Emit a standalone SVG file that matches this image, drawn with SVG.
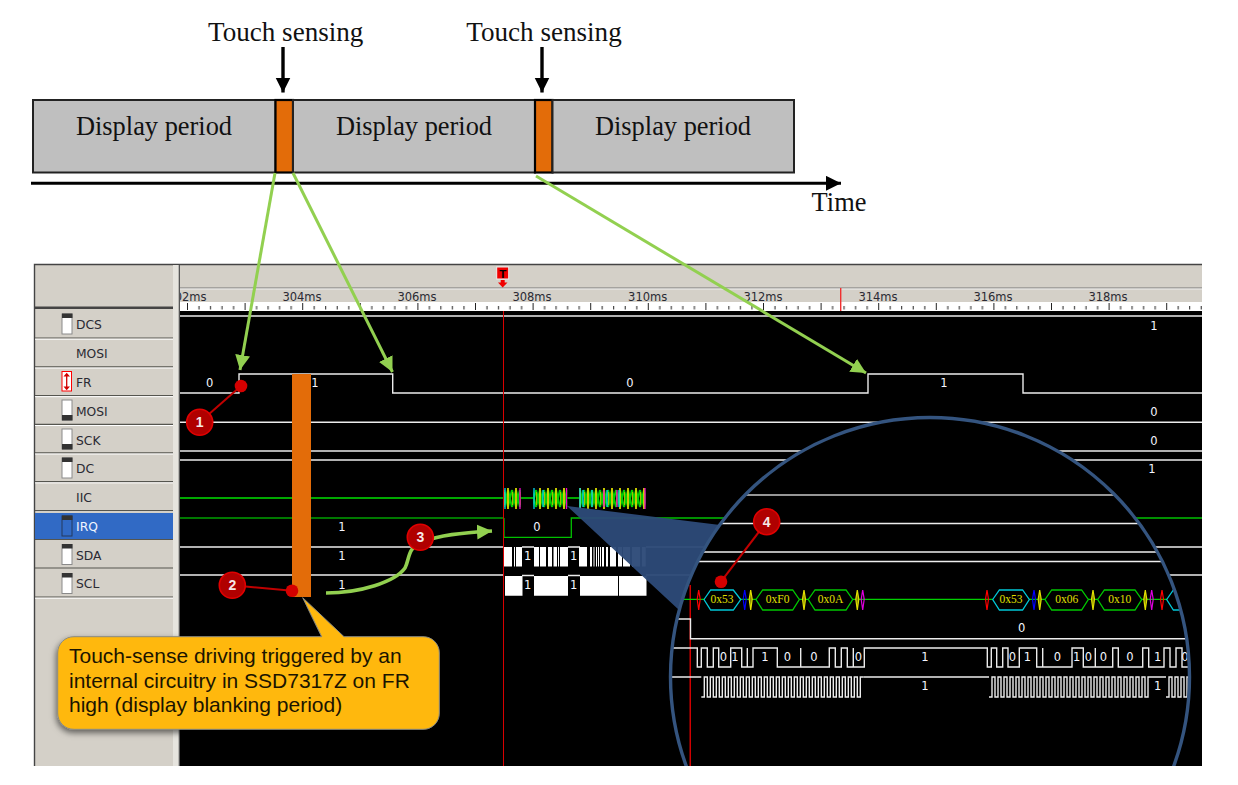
<svg xmlns="http://www.w3.org/2000/svg" xmlns:xlink="http://www.w3.org/1999/xlink" width="1238" height="785" viewBox="0 0 1238 785">
<style>
.ser{font-family:"Liberation Serif",serif;fill:#111}
.big{font-size:26.4px}
.tch{font-size:27.100px}
.row{font-family:"DejaVu Sans",sans-serif;font-size:12.300px;fill:#2a2a33}
.val{font-family:"DejaVu Sans",sans-serif;font-size:11.500px;fill:#f4f6ff;text-anchor:middle}
.tm{font-family:"DejaVu Sans",sans-serif;font-size:11.500px;fill:#2a2a33;text-anchor:middle}
.sig{fill:none;stroke:#ececec;stroke-width:1.4}
.grn{fill:none;stroke:#92d050;stroke-width:3}
.divd{stroke:#55554f;stroke-width:1.2}
.divl{stroke:#fff;stroke-width:1}
.ic{fill:#fff;stroke:#8a8a8a;stroke-width:1}
.icd{fill:#333}
.lead{stroke:#c00000;stroke-width:2;fill:none}
.dot{fill:#d40000}
.num{fill:#b00000;stroke:#e00000;stroke-width:1.6}
.numt{font-family:"Liberation Sans",sans-serif;font-size:14px;font-weight:bold;fill:#f5e8e8;text-anchor:middle}
.hxc{fill:#000;stroke:#00c8d8;stroke-width:1.3}
.hxg{fill:#000;stroke:#00c800;stroke-width:1.3}
.byte{font-family:"Liberation Serif",serif;font-size:11.500px;fill:#e0e000;text-anchor:middle}
.gr{fill:none;stroke:#ff0000;stroke-width:1.200}.gb{fill:none;stroke:#0000ff;stroke-width:1.200}.gy{fill:#888800;stroke:#e0e000;stroke-width:1.200}.gm{fill:none;stroke:#e000e0;stroke-width:1.200}
.call{font-family:"Liberation Sans",sans-serif;font-size:21px;fill:#1a1400}
</style>
<defs>
<clipPath id="win"><rect x="0" y="0" width="1202" height="766"/></clipPath>
<clipPath id="wave"><rect x="180" y="264" width="1022" height="502"/></clipPath>
<clipPath id="lens"><circle cx="930" cy="677" r="259"/></clipPath>
<marker id="ah" markerUnits="userSpaceOnUse" markerWidth="18" markerHeight="18" refX="15" refY="7.500" orient="auto"><path d="M0 0L15 7.500L0 15Z" fill="#92d050"/></marker>
<marker id="bh" markerUnits="userSpaceOnUse" markerWidth="18" markerHeight="18" refX="15" refY="7.500" orient="auto"><path d="M0 0L15 7.500L0 15Z" fill="#000"/></marker>
<pattern id="ticks" patternUnits="userSpaceOnUse" x="187" y="302" width="57.600" height="9">
<rect width="57.600" height="9" fill="#fff"/>
<path d="M.5 1V8M12 4V7.500M23.500 4V7.500M35 4V7.500M46.600 4V7.500" stroke="#222" stroke-width="1" fill="none"/>
</pattern>
<pattern id="burst" patternUnits="userSpaceOnUse" x="504" y="488" width="8" height="21">
<rect width="8" height="21" fill="#000"/>
<path d="M0 2L4 19L8 2M0 19L4 2L8 19" stroke="#00d000" stroke-width="2" fill="none"/>
<path d="M4 0V21" stroke="#d8d800" stroke-width="1.800" fill="none"/>
<path d="M.5 4V17" stroke="#a0c000" stroke-width="1.200" fill="none"/>
</pattern>
<path id="clk" class="sig" d="M0 697H3V677H6V697H9V677H12V697H15V677H18V697H21V677H24V697H27V677H30V697H33V677H36V697H39V677H42V697H45V677H48V697H51V677H54V697H57V677H60V697H63V677H66V697H69V677H72V697H75V677H78V697H81V677H84V697H87V677H90V697H93V677H96V697H99V677H102V697H105V677H108V697H111V677H114V697H117V677H120V697H123V677H126V697H129V677H132V697H135V677H138V697H141V677H144V697H147V677H150V697H153V677H156V697H159V677H162"/>
<filter id="shadow" x="-10%" y="-20%" width="120%" height="150%"><feDropShadow dx="-1" dy="3" stdDeviation="3" flood-color="#000" flood-opacity=".55"/></filter>
</defs>

<g id="timeline">
<g id="period-1"><rect x="33" y="100" width="242.500" height="72.500" fill="#bfbfbf" stroke="#222" stroke-width="2"/><text class="ser big" x="154" y="134.500" text-anchor="middle">Display period</text></g>
<g id="sense-1"><rect x="275.500" y="100" width="17.500" height="72.500" fill="#e36c09" stroke="#000" stroke-width="2.200"/></g>
<g id="period-2"><rect x="293" y="100" width="242" height="72.500" fill="#bfbfbf" stroke="#222" stroke-width="2"/><text class="ser big" x="414" y="134.500" text-anchor="middle">Display period</text></g>
<g id="sense-2"><rect x="535" y="100" width="17.500" height="72.500" fill="#e36c09" stroke="#000" stroke-width="2.200"/></g>
<g id="period-3"><rect x="552.500" y="100" width="241.500" height="72.500" fill="#bfbfbf" stroke="#222" stroke-width="2"/><text class="ser big" x="673" y="134.500" text-anchor="middle">Display period</text></g>
<g id="label-sense-1"><text class="ser tch" x="285.700" y="41" text-anchor="middle">Touch sensing</text></g>
<g id="label-sense-2"><text class="ser tch" x="544" y="41" text-anchor="middle">Touch sensing</text></g>
<g id="label-time"><text class="ser big" x="839" y="210.500" text-anchor="middle">Time</text></g>
</g>

<g clip-path="url(#win)">
<g id="analyzer">
<rect x="34" y="264" width="1168" height="502" fill="#d4d0c8"/>
<path d="M34.500 766V264.500H1202" fill="none" stroke="#444" stroke-width="1.400"/>
<rect x="173" y="265" width="6" height="501" fill="#e6e4de"/>
<rect x="178.700" y="265" width="1.300" height="501" fill="#555"/>
<path d="M180 288H1202" stroke="#777" stroke-width="1.200"/>
<path d="M180 289H1202" stroke="#eee" stroke-width="1"/>
<rect x="180" y="302" width="1022" height="9" fill="url(#ticks)"/>
<rect x="180" y="311" width="1022" height="455" fill="#000"/>
<rect x="840" y="288" width="1.400" height="23" fill="#f03030"/>
<g clip-path="url(#wave)">
<text class="tm" x="187" y="300.700">302ms</text><text class="tm" x="302" y="300.700">304ms</text><text class="tm" x="417" y="300.700">306ms</text><text class="tm" x="532" y="300.700">308ms</text><text class="tm" x="647.700" y="300.700">310ms</text><text class="tm" x="763" y="300.700">312ms</text><text class="tm" x="878" y="300.700">314ms</text><text class="tm" x="993" y="300.700">316ms</text><text class="tm" x="1108" y="300.700">318ms</text>
</g>
<g id="trigger"><rect x="496.700" y="267" width="12" height="12" fill="#f00000" stroke="#eee" stroke-width="1"/><text x="502.700" y="277.500" font-family="Liberation Sans,sans-serif" font-size="11.500" font-weight="bold" fill="#000" text-anchor="middle">T</text><path d="M498 282.500H507.500L502.700 287.500Z" fill="#f00000"/><rect x="500.700" y="280" width="4" height="3" fill="#f00000"/></g>

<rect x="35" y="306.500" width="138" height="2.500" fill="#444"/>
<path class="divd" d="M35 338H173M35 366.800H173M35 395.500H173M35 424.300H173M35 452.800H173M35 481.700H173M35 510.500H173M35 539.500H173M35 568H173M35 597H173"/>
<path class="divl" d="M35 339.200H173M35 368H173M35 396.700H173M35 425.500H173M35 454H173M35 482.900H173M35 598.200H173"/>
<rect x="35" y="513" width="138" height="26" fill="#316ac5"/>

<g id="row-dcs"><rect class="ic" x="62" y="314" width="10" height="20"/><rect class="icd" x="62" y="313.500" width="10.500" height="4.500"/><text class="row" x="76" y="329.300">DCS</text></g>
<g id="row-mosi-a"><text class="row" x="76" y="358">MOSI</text></g>
<g id="row-fr"><rect x="62" y="371.500" width="9.500" height="19.500" fill="#fff" stroke="#f00" stroke-width="1"/><path d="M66.700 374V389" stroke="#d00000" stroke-width="1.300"/><path d="M63.500 376.500L66.700 372.800L70 376.500ZM63.500 386.500L66.700 390.200L70 386.500Z" fill="#d00000"/><text class="row" x="76" y="387">FR</text></g>
<g id="row-mosi-b"><rect class="ic" x="62" y="400" width="10" height="20"/><rect class="icd" x="62" y="415" width="10.500" height="5.500"/><text class="row" x="76" y="415.800">MOSI</text></g>
<g id="row-sck"><rect class="ic" x="62" y="429" width="10" height="20"/><rect class="icd" x="62" y="444" width="10.500" height="5.500"/><text class="row" x="76" y="444.700">SCK</text></g>
<g id="row-dc"><rect class="ic" x="62" y="458" width="10" height="20"/><rect class="icd" x="62" y="457.500" width="10.500" height="4.500"/><text class="row" x="76" y="473">DC</text></g>
<g id="row-iic"><text class="row" x="76" y="502">IIC</text></g>
<g id="row-irq"><rect x="62" y="516" width="10" height="20" fill="#316ac5" stroke="#24385c" stroke-width="1"/><rect class="icd" x="62" y="515.500" width="10.500" height="4.500"/><text class="row" x="76" y="530.700" style="fill:#f0f4ff">IRQ</text></g>
<g id="row-sda"><rect class="ic" x="62" y="544.500" width="10" height="20"/><rect class="icd" x="62" y="544" width="10.500" height="4.500"/><text class="row" x="76" y="559.500">SDA</text></g>
<g id="row-scl"><rect class="ic" x="62" y="573.500" width="10" height="20"/><rect class="icd" x="62" y="573" width="10.500" height="4.500"/><text class="row" x="76" y="588">SCL</text></g>

<g id="signals">
<path class="sig" d="M180 316H1202M180 393H239V374H392.700V393H868V374H1023V393H1202M180 422.300H1202M180 451H1202M180 460H1202M180 547H504M180 575H504"/>
<path d="M646 547H1202M646 575H1202M522 547H534M568 547H580M522 575.500H534M568 575.500H580" class="sig"/>
<path d="M180 498H504M520.700 498H533.300M567.300 498H579.300" fill="none" stroke="#00e000" stroke-width="1.300"/>
<path d="M180 518H504" fill="none" stroke="#00a000" stroke-width="1.300"/>
<path d="M504 518V537.300H571.300V518H1202" fill="none" stroke="#00c000" stroke-width="1.300"/>
<rect x="504" y="488" width="16.700" height="21" fill="url(#burst)"/>
<rect x="533.300" y="488" width="34" height="21" fill="url(#burst)"/>
<rect x="579.300" y="488" width="66.400" height="21" fill="url(#burst)"/>
<path d="M505 488V509M534 488V509M580 488V509M583 490V507M592 490V507M607 490V507M619 490V507M543 490V507" stroke="#00d8f0" stroke-width="1.300" fill="none"/>
<path d="M520 488V509M566.500 488V509M645 488V509M617 490V507M604 490V507" stroke="#f000d0" stroke-width="1.300" fill="none"/>
<path d="M504 547H512V566.500H504ZM514 547H515V566.500H514ZM516 547H522V566.500H516ZM534 547H539V566.500H534ZM540 547H546V566.500H540ZM548 547H552V566.500H548ZM553.500 547H557V566.500H553.500ZM558 547H559V566.500H558ZM560 547H568V566.500H560ZM579 547H587V566.500H579ZM590 547H592V566.500H590ZM593.500 547H594.500V566.500H593.500ZM596 547H597V566.500H596ZM598 547H599V566.500H598ZM600 547H601V566.500H600ZM602 547H604V566.500H602ZM606 547H608V566.500H606ZM610 547H616V566.500H610ZM618 547H622V566.500H618ZM623 547H630V566.500H623ZM632 547H640V566.500H632ZM642 547H645.700V566.500H642Z" fill="#fff"/>
<path d="M505 576H522.500V595.700H505ZM534 576H568V595.700H534ZM580 576H618V595.700H580ZM619 576H646.500V595.700H619Z" fill="#fff"/>
<text class="val" x="209.700" y="387">0</text><text class="val" x="315" y="387">1</text><text class="val" x="630" y="387">0</text><text class="val" x="944" y="387">1</text>
<text class="val" x="1154" y="330">1</text><text class="val" x="1154" y="416">0</text><text class="val" x="1154" y="445">0</text><text class="val" x="1152" y="473">1</text>
<text class="val" x="342" y="531">1</text><text class="val" x="342" y="560">1</text><text class="val" x="342" y="589">1</text>
<text class="val" x="537" y="531">0</text>
<text class="val" x="527.700" y="560">1</text><text class="val" x="573.700" y="560">1</text><text class="val" x="527.700" y="589">1</text><text class="val" x="573.700" y="589">1</text>
<rect x="503" y="311" width="1" height="455" fill="#d80000"/>
</g>
</g>

<g id="magnifier">
<circle cx="930" cy="677" r="260" fill="#000"/>
<g clip-path="url(#lens)">
<path d="M660 495H1200" stroke="#c8c8c8" stroke-width="1.300"/>
<path d="M660 523.500H1200M660 552H1200M660 561.500H1200" stroke="#eee" stroke-width="1.300"/>
<rect x="689.500" y="585" width="1.500" height="181" fill="#d00000"/>
<path class="sig" d="M660 619H690.500V638.700H1200"/>
<path d="M670 599.300H1200" stroke="#00d000" stroke-width="1.200"/>
<g id="bus">
<polygon class="gr" points="698.700,590 700.200,599.300 698.700,610 697.200,599.300"/>
<polygon class="hxc" points="704,599.500 710.700,590 733.300,590 740.700,599.500 733.300,610 710.700,610"/><text class="byte" x="722" y="603">0x53</text>
<polygon class="gb" points="744.700,590 746.200,599.300 744.700,610 743.200,599.300"/><polygon class="gy" points="750.700,590 752.200,599.300 750.700,610 749.200,599.300"/>
<polygon class="hxg" points="756,599.500 762.700,590 792.700,590 799.300,599.500 792.700,610 762.700,610"/><text class="byte" x="777.700" y="603">0xF0</text>
<polygon class="gy" points="804,590 805.500,599.300 804,610 802.500,599.300"/>
<polygon class="hxg" points="808.300,599.500 815,590 846,590 852.700,599.500 846,610 815,610"/><text class="byte" x="830.500" y="603">0x0A</text>
<polygon class="gy" points="857.300,590 858.800,599.300 857.300,610 855.800,599.300"/><polygon class="gm" points="862.700,590 864.200,599.300 862.700,610 861.200,599.300"/>
<polygon class="gr" points="987,590 988.500,599.300 987,610 985.500,599.300"/>
<polygon class="hxc" points="992.700,599.500 999.400,590 1022.600,590 1029.300,599.500 1022.600,610 999.400,610"/><text class="byte" x="1011" y="603">0x53</text>
<polygon class="gb" points="1034,590 1035.500,599.300 1034,610 1032.500,599.300"/><polygon class="gy" points="1039.700,590 1041.200,599.300 1039.700,610 1038.200,599.300"/>
<polygon class="hxg" points="1045,599.500 1051.700,590 1081.600,590 1088.300,599.500 1081.600,610 1051.700,610"/><text class="byte" x="1066.700" y="603">0x06</text>
<polygon class="gy" points="1093,590 1094.500,599.300 1093,610 1091.500,599.300"/>
<polygon class="hxg" points="1097.700,599.500 1104.400,590 1135,590 1141.700,599.500 1135,610 1104.400,610"/><text class="byte" x="1119.700" y="603">0x10</text>
<polygon class="gy" points="1145.300,590 1146.800,599.300 1145.300,610 1143.800,599.300"/><polygon class="gm" points="1151.700,590 1153.200,599.300 1151.700,610 1150.200,599.300"/>
<polygon class="gr" points="1162,590 1163.500,599.300 1162,610 1160.500,599.300"/>
<polygon class="hxc" points="1166.700,599.500 1173.400,590 1200,590 1200,610 1173.400,610"/>
</g>
<path class="sig" d="M665 648H697.300V667H701.300V648H707.300V667H713.300V648H718.700V667H730.700V648H741.700V667H747.300V648V667H753V648H777.300V667H800.700V648V667H829.300V648H835.300V667H841.300V648H847.300V667H853.300V648V667H864.300V648H987.300V667H991.300V648H996.700V667H1002.700V648H1008V667H1019.300V648H1036.700V667H1042.700V648V667H1072V648H1083.300V667H1095.300V648V667H1112.700V648H1118.300V667H1142.700V648H1148.700V667H1164V648H1170V667H1176V648H1182V667H1195"/>
<path class="sig" d="M665 677H701.300M863.300 677H989M1151 677H1166"/>
<use xlink:href="#clk" href="#clk" x="701.300"/><use xlink:href="#clk" href="#clk" x="989"/><use xlink:href="#clk" href="#clk" x="1166"/>
<text class="val" x="723.300" y="661">0</text><text class="val" x="735" y="661">1</text><text class="val" x="765" y="661">1</text><text class="val" x="787.300" y="661">0</text><text class="val" x="814" y="661">0</text><text class="val" x="858.300" y="661">0</text><text class="val" x="925" y="661">1</text>
<text class="val" x="1012.300" y="661">0</text><text class="val" x="1027.300" y="661">1</text><text class="val" x="1057.300" y="661">0</text><text class="val" x="1076.700" y="661">1</text><text class="val" x="1088.300" y="661">0</text><text class="val" x="1103.300" y="661">0</text><text class="val" x="1130" y="661">0</text><text class="val" x="1157.700" y="661">1</text><text class="val" x="1185" y="661">0</text>
<text class="val" x="925" y="690">1</text><text class="val" x="1157.700" y="690">1</text>
<text class="val" x="1021.700" y="632">0</text>
</g>
<path d="M567 506L720 525A260 260 0 0 0 679 610Z" fill="#2d4a78" fill-opacity=".96"/>
<circle cx="930" cy="677" r="259.500" fill="none" stroke="#34547f" stroke-width="3.400"/>
</g>

<g id="touch-bar"><rect x="292" y="374" width="19" height="223" fill="#e36c09"/></g>

<g id="connectors">
<path d="M283 47V92.500" fill="none" stroke="#000" stroke-width="3.400" marker-end="url(#bh)"/>
<path d="M542 47V92.500" fill="none" stroke="#000" stroke-width="3.400" marker-end="url(#bh)"/>
<path d="M31 183.300H841" fill="none" stroke="#000" stroke-width="3" marker-end="url(#bh)"/>
<path class="grn" d="M275 173L240 370" marker-end="url(#ah)"/>
<path class="grn" d="M293 173L392.500 372" marker-end="url(#ah)"/>
<path class="grn" d="M536 176L866 373" marker-end="url(#ah)"/>
<path class="grn" style="stroke-width:3.600" d="M326 593C360 593 395 582 405 568C410 558 407 548 422 542C440 535 460 533 492 531" marker-end="url(#ah)"/>
<path class="lead" d="M241 386L199.700 422.300"/>
<path class="lead" d="M292 590.700L232.300 585.300"/>
<path class="lead" d="M721 581.700L766.700 521.700"/>
</g>

<g id="badge-1"><circle class="dot" cx="241" cy="386" r="6.300"/><circle class="num" cx="199.700" cy="422.300" r="13"/><text class="numt" x="199.700" y="427.300">1</text></g>
<g id="badge-2"><circle class="dot" cx="292" cy="590.700" r="6.300"/><circle class="num" cx="232.300" cy="585.300" r="13"/><text class="numt" x="232.300" y="590.300">2</text></g>
<g id="badge-3"><circle class="num" cx="420.300" cy="537.300" r="13"/><text class="numt" x="420.300" y="542.300">3</text></g>
<g id="badge-4"><circle class="dot" cx="721" cy="581.700" r="6.300"/><circle class="num" cx="766.700" cy="521.700" r="13"/><text class="numt" x="766.700" y="526.700">4</text></g>

<g id="callout">
<path d="M74 636.700H321.700L302.700 597.700L344 636.700H423A16 16 0 0 1 439.300 653V713A16 16 0 0 1 423 729.300H74A16 16 0 0 1 57.700 713V653A16 16 0 0 1 74 636.700Z" fill="#ffb80e" stroke="#8a8a80" stroke-width="1" filter="url(#shadow)"/>
<text class="call" x="69" y="663">Touch-sense driving triggered by an</text>
<text class="call" x="69" y="688">internal circuitry in SSD7317Z on FR</text>
<text class="call" x="69" y="711.700">high (display blanking period)</text>
</g>
</g>
</svg>
